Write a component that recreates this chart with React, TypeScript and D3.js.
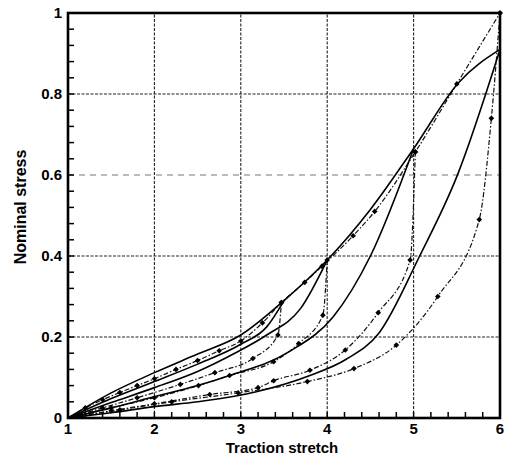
import React, { useEffect, useRef } from "react";
import * as d3 from "d3";

type Pt = [number, number];

// x tick values and labels, y tick values and labels
const xTicks = [1, 2, 3, 4, 5, 6];
const yTicks = [0, 0.2, 0.4, 0.6, 0.8, 1];
const yTickLabels = ["0", "0.2", "0.4", "0.6", "0.8", "1"];

// model (solid lines)
const modelLoading: Pt[] = [
  [1, 0], [1.5, 0.062], [2, 0.112], [2.5, 0.158], [3, 0.205], [3.5, 0.29],
  [4, 0.39], [4.5, 0.515], [5, 0.665], [5.52, 0.828], [6, 0.91],
];
const modelUnload35: Pt[] = [
  [1, 0], [1.5, 0.048], [2, 0.09], [2.5, 0.133], [3, 0.182], [3.3, 0.225], [3.5, 0.29],
];
const modelUnload4: Pt[] = [
  [1, 0], [1.5, 0.038], [2, 0.075], [2.5, 0.115], [2.93, 0.16], [3.3, 0.205], [3.69, 0.27], [4, 0.39],
];
const modelUnload5: Pt[] = [
  [1, 0], [1.5, 0.025], [1.95, 0.05], [2.5, 0.08], [2.87, 0.105], [3.57, 0.165],
  [4.07, 0.25], [4.5, 0.4], [5, 0.665],
];
const modelUnload6: Pt[] = [
  [1, 0], [1.5, 0.013], [2, 0.028], [2.5, 0.04], [2.91, 0.053], [3.18, 0.065], [3.8, 0.105],
  [4.22, 0.145], [4.6, 0.21], [5.07, 0.4], [5.5, 0.596], [6, 0.91],
];

// experiment (dash-dot lines with markers)
const expLoading: Pt[] = [
  [1, 0], [1.2, 0.025], [1.4, 0.045], [1.6, 0.063], [1.8, 0.08], [2, 0.097], [2.25, 0.12],
  [2.5, 0.142], [2.75, 0.166], [3, 0.19], [3.25, 0.235], [3.47, 0.285], [3.74, 0.335],
  [3.94, 0.375], [4.3, 0.45], [4.55, 0.51], [5.02, 0.657], [5.5, 0.825], [6, 1.0],
];
const expUnload35: Pt[] = [
  [1, 0], [1.4, 0.025], [1.8, 0.05], [2.3, 0.083], [2.7, 0.112], [3.14, 0.147], [3.43, 0.205], [3.47, 0.285],
];
const expUnload4: Pt[] = [
  [1, 0], [1.5, 0.025], [2, 0.05], [2.51, 0.08], [2.87, 0.105], [3.38, 0.139], [3.67, 0.184], [3.95, 0.254], [4, 0.39],
];
const expUnload5: Pt[] = [
  [1, 0], [1.5, 0.018], [2, 0.035], [2.64, 0.058], [3.2, 0.075], [3.38, 0.092], [3.8, 0.118],
  [4.21, 0.168], [4.59, 0.26], [4.96, 0.39], [5.02, 0.657],
];
const expUnload6: Pt[] = [
  [1, 0], [1.6, 0.02], [2.2, 0.04], [2.97, 0.062], [3.77, 0.09], [4.31, 0.122], [4.8, 0.18],
  [5.28, 0.3], [5.76, 0.49], [5.9, 0.74], [6, 1.0],
];

const modelSeries = [modelLoading, modelUnload35, modelUnload4, modelUnload5, modelUnload6];
const expSeries = [expLoading, expUnload35, expUnload4, expUnload5, expUnload6];

const Chart = ({ width = 511, height = 455 }) => {
  const svgRef = useRef<SVGSVGElement>(null);

  useEffect(() => {
    const margin = { top: 13, right: 11, bottom: 37, left: 68 };
    const x = d3.scaleLinear().domain([1, 6]).range([margin.left, width - margin.right]);
    const y = d3.scaleLinear().domain([0, 1]).range([height - margin.bottom, margin.top]);

    const svg = d3.select(svgRef.current).attr("width", width).attr("height", height);
    svg.selectAll("*").remove();

    const font = "'Liberation Sans', Arial, sans-serif";

    // grid
    svg.append("g")
      .selectAll("line")
      .data(xTicks.slice(1, -1))
      .enter()
      .append("line")
      .attr("x1", (d) => x(d)).attr("x2", (d) => x(d))
      .attr("y1", y(0)).attr("y2", y(1))
      .attr("stroke", "#222").attr("stroke-width", 1.1).attr("stroke-dasharray", "3,1.5");
    svg.append("g")
      .selectAll("line")
      .data(yTicks.slice(1, -1))
      .enter()
      .append("line")
      .attr("x1", x(1)).attr("x2", x(6))
      .attr("y1", (d) => y(d)).attr("y2", (d) => y(d))
      .attr("stroke", (d) => (d === 0.6 ? "#777" : "#222"))
      .attr("stroke-width", 1.1)
      .attr("stroke-dasharray", (d) => (d === 0.6 ? "6,5" : "3,1.5"));

    // minor ticks
    const xMinor = d3.range(1, 6.001, 0.2);
    svg.append("g")
      .selectAll("line")
      .data(xMinor)
      .enter()
      .append("line")
      .attr("x1", (d) => x(d)).attr("x2", (d) => x(d))
      .attr("y1", y(0)).attr("y2", y(0) - 6)
      .attr("stroke", "#000").attr("stroke-width", 1.5);
    const yMinor = d3.range(0, 1.001, 0.04);
    svg.append("g")
      .selectAll("line")
      .data(yMinor)
      .enter()
      .append("line")
      .attr("x1", x(1)).attr("x2", x(1) + 6)
      .attr("y1", (d) => y(d)).attr("y2", (d) => y(d))
      .attr("stroke", "#000").attr("stroke-width", 1.5);

    const line = d3
      .line<Pt>()
      .x((d) => x(d[0]))
      .y((d) => y(d[1]))
      .curve(d3.curveMonotoneX);

    // experiment curves
    const marker = d3.symbol().type(d3.symbolSquare).size(16)();
    const expG = svg.append("g");
    expSeries.forEach((s) => {
      expG.append("path")
        .attr("d", line(s))
        .attr("fill", "none")
        .attr("stroke", "#111")
        .attr("stroke-width", 1.2)
        .attr("stroke-dasharray", "5,2,1.5,2");
      expG.selectAll(null)
        .data(s.slice(1))
        .enter()
        .append("path")
        .attr("transform", (d) => `translate(${x(d[0])},${y(d[1])}) rotate(45)`)
        .attr("d", marker)
        .attr("fill", "#000");
    });

    // model curves
    const modelG = svg.append("g");
    modelSeries.forEach((s) => {
      modelG.append("path")
        .attr("d", line(s))
        .attr("fill", "none")
        .attr("stroke", "#000")
        .attr("stroke-width", 1.6);
    });

    // frame
    svg.append("rect")
      .attr("x", x(1)).attr("y", y(1))
      .attr("width", x(6) - x(1)).attr("height", y(0) - y(1))
      .attr("fill", "none").attr("stroke", "#000").attr("stroke-width", 2.6);

    // tick labels
    svg.append("g")
      .selectAll("text")
      .data(yTicks)
      .enter()
      .append("text")
      .attr("x", x(1) - 6)
      .attr("y", (d) => y(d) + 5)
      .attr("text-anchor", "end")
      .style("font-family", font)
      .style("font-size", "15px")
      .style("font-weight", "700")
      .text((d, i) => yTickLabels[i]);
    svg.append("g")
      .selectAll("text")
      .data(xTicks)
      .enter()
      .append("text")
      .attr("x", (d) => x(d))
      .attr("y", y(0) + 16)
      .attr("text-anchor", "middle")
      .style("font-family", font)
      .style("font-size", "15px")
      .style("font-weight", "700")
      .text((d) => String(d));

    // axis titles
    svg.append("text")
      .attr("x", 282)
      .attr("y", 453)
      .attr("text-anchor", "middle")
      .style("font-family", font)
      .style("font-size", "15px")
      .style("font-weight", "700")
      .text("Traction stretch");
    svg.append("text")
      .attr("transform", "translate(26,207) rotate(-90)")
      .attr("text-anchor", "middle")
      .style("font-family", font)
      .style("font-size", "16px")
      .style("font-weight", "700")
      .text("Nominal stress");
  }, [width, height]);

  return <svg ref={svgRef} style={{ position: "absolute", left: 0, top: 0 }}></svg>;
};

export default function App() {
  return <Chart />;
}
